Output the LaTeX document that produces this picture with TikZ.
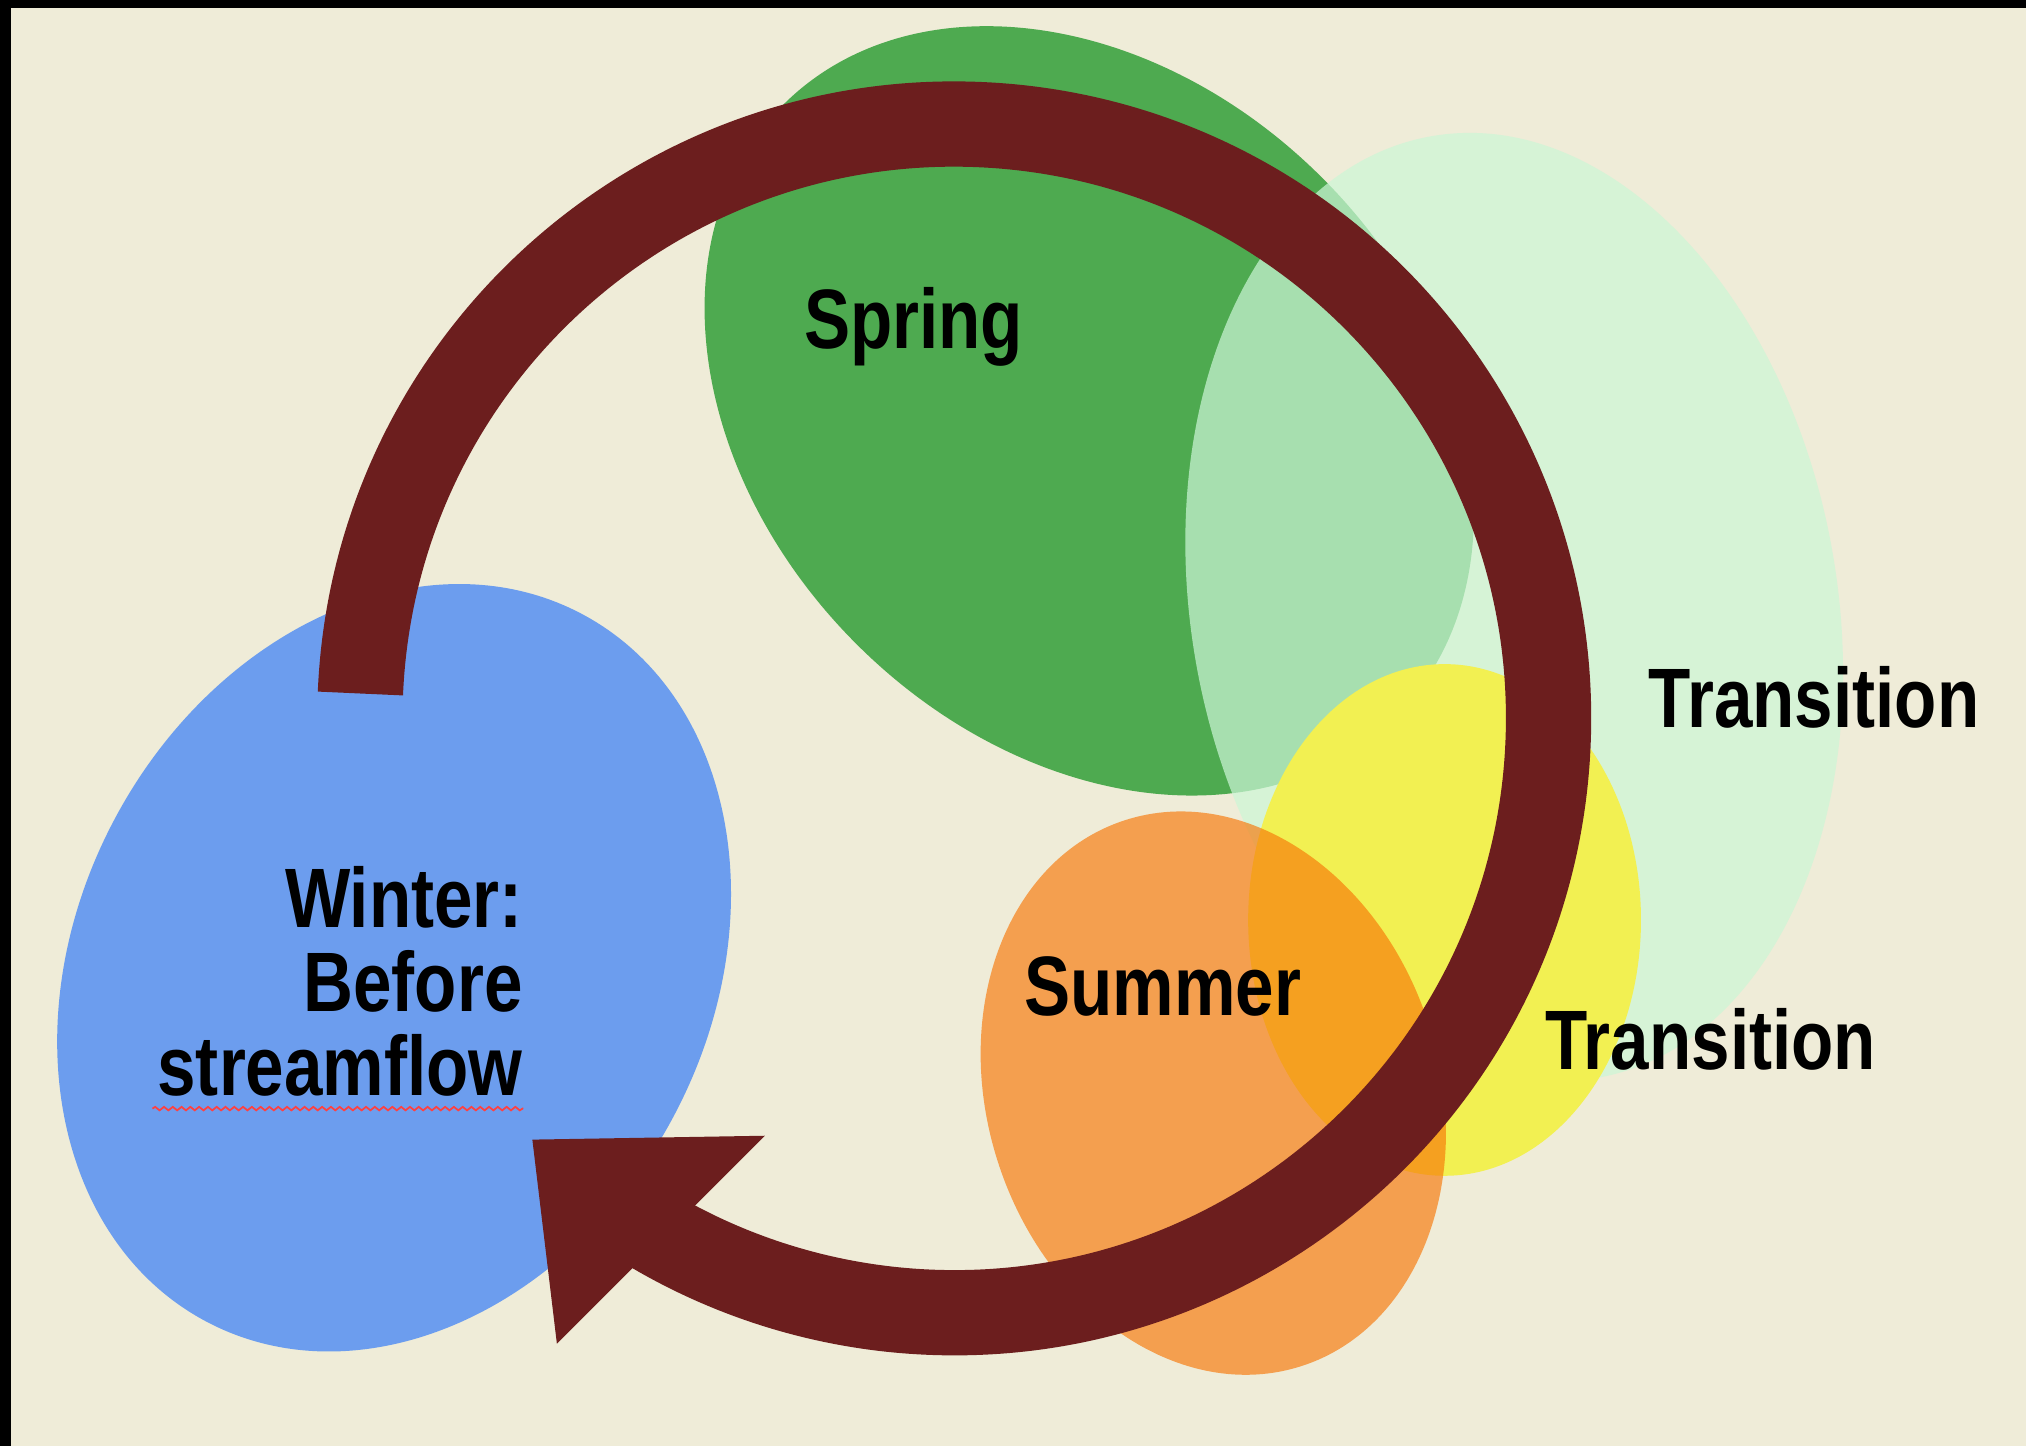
\documentclass[tikz,border=0pt]{standalone}
\usepackage{fontspec}
\newfontfamily\seasonfont{Liberation Sans}[FakeStretch=0.82]
\usetikzlibrary{decorations.pathmorphing}

\definecolor{cream}{RGB}{239,236,216}
\definecolor{winterblue}{RGB}{108,157,238}
\definecolor{springgreen}{RGB}{78,170,80}
\definecolor{mintgreen}{RGB}{204,246,214}
\definecolor{transyellow}{RGB}{242,240,82}
\definecolor{summerorange}{RGB}{247,118,6}
\definecolor{cyclebrown}{RGB}{108,30,30}

\begin{document}
\begin{tikzpicture}[x=0.01292cm, y=0.01292cm,
  seasontext/.style={font=\seasonfont\bfseries\fontsize{24}{24}\selectfont, text=black, inner sep=0pt},
  cyclering/.style={draw=cyclebrown, line width=0.853cm}]

% Define the page
\useasboundingbox (0,0) rectangle (1568,1119);
\fill[cream] (0,0) rectangle (1568,1119);
\fill[black] (0,1112.8) rectangle (1568,1119);
\fill[black] (0,0) rectangle (8.5,1119);

% Define the centres of the blobs
\coordinate (winter) at (305,370);
\coordinate (spring) at (843,801);
\coordinate (transA) at (1172,649);
\coordinate (transB) at (1118,407);
\coordinate (summer) at (939,273);
\coordinate (ring) at (738.5,563);

% Draw the season blobs
\fill[winterblue, rotate around={62:(winter)}] (winter) ellipse [x radius=310, y radius=245];
\fill[springgreen, rotate around={-45:(spring)}] (spring) ellipse [x radius=335, y radius=255];
\fill[mintgreen, opacity=0.71, rotate around={100:(transA)}] (transA) ellipse [x radius=370, y radius=250];
\fill[transyellow] (transB) ellipse [x radius=152, y radius=198];
\fill[summerorange, opacity=0.65, rotate around={-72:(summer)}] (summer) ellipse [x radius=222, y radius=175];

% Draw the cycle arrow
\coordinate (tip) at (412,237);
\coordinate (barbA) at (592,240);
\coordinate (barbB) at (431,79);
\draw[cyclering] (ring) ++(177.6:460) arc [start angle=177.6, end angle=-123, radius=460];
\fill[cyclebrown] (tip) -- (barbA) -- (barbB) -- cycle;

% Add the labels
\node[seasontext, anchor=base] (springlbl) at (707,849) {Spring};
\node[seasontext, anchor=base] (transAlbl) at (1404,556) {Transition};
\node[seasontext, anchor=base] (transBlbl) at (1324,291) {Transition};
\node[seasontext, anchor=base] (summerlbl) at (900,333) {Summer};
\node[seasontext, align=right, anchor=base east] (winterlbl) at (405,271) {Winter:\\Before\\streamflow};
\draw[red!75!white, line width=0.5pt, decorate, decoration={snake, amplitude=0.5pt, segment length=2.5pt}]
  (118,261) -- (405,261);

\end{tikzpicture}
\end{document}
